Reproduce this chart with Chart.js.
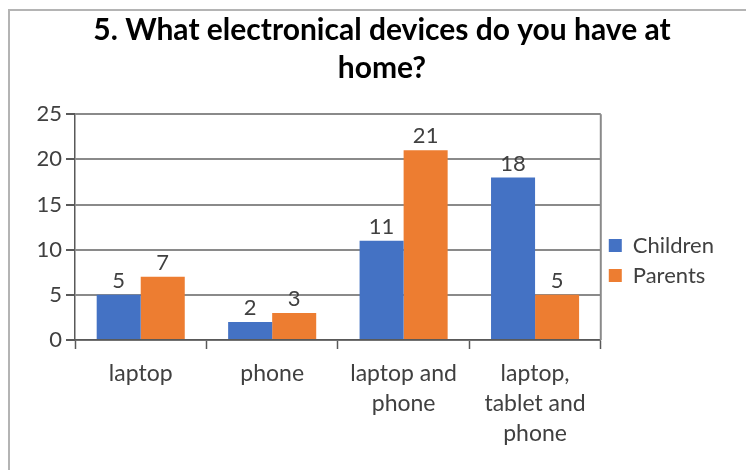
<!DOCTYPE html>
<html lang="en">
<head>
    <meta charset="UTF-8">
    <script src="https://cdn.jsdelivr.net/npm/chart.js"></script>
    <title>Electronic devices</title>
    <style>
        body { margin: 0; background: #fff; }
        .moldura { position: relative; width: 746px; height: 470px; }
        .borda { position: absolute; left: 8px; top: 9px; right: -2px; bottom: -2px;
                 border-left: 2px solid #b4b4b4; border-top: 2px solid #b4b4b4; }
        canvas { position: absolute; left: 0; top: 0; }
    </style>
</head>
<body>
<div class="moldura">
    <div class="borda"></div>
    <canvas id="grafico" width="746" height="470"></canvas>
</div>

<script>
// dados do grafico
const categorias = [['laptop'], ['phone'], ['laptop and', 'phone'], ['laptop,', 'tablet and', 'phone']];
const criancas = [5, 2, 11, 18];
const pais = [7, 3, 21, 5];
const marcasY = [0, 5, 10, 15, 20, 25];

// escreve o valor em cima de cada barra
const rotulosBarras = {
    id: 'rotulosBarras',
    afterDatasetsDraw(chart) {
        const ctx = chart.ctx;
        ctx.save();
        ctx.font = '22px Lato';
        ctx.fillStyle = '#404040';
        ctx.textAlign = 'center';
        ctx.textBaseline = 'bottom';
        chart.data.datasets.forEach(function (ds, i) {
            chart.getDatasetMeta(i).data.forEach(function (barra, j) {
                ctx.fillText(ds.data[j], barra.x, barra.y - 3);
            });
        });
        ctx.restore();
    }
};

// linha da direita da area do grafico
const bordaDireita = {
    id: 'bordaDireita',
    beforeDatasetsDraw(chart) {
        const a = chart.chartArea;
        const ctx = chart.ctx;
        ctx.save();
        ctx.strokeStyle = '#8a8a8a';
        ctx.lineWidth = 2;
        ctx.beginPath();
        ctx.moveTo(a.right, a.top);
        ctx.lineTo(a.right, a.bottom);
        ctx.stroke();
        ctx.restore();
    }
};

// desce um pouco a legenda e empurra o titulo para a direita
const ajustaCaixas = {
    id: 'ajustaCaixas',
    afterLayout(chart) {
        chart.legend.top += 20;
        chart.legend.bottom += 20;
        if (chart.titleBlock) {
            chart.titleBlock.left += 15;
            chart.titleBlock.right += 15;
        }
    }
};

const config = {
    type: 'bar',
    data: {
        labels: categorias,
        datasets: [
            { label: 'Children', data: criancas, backgroundColor: '#4472C4' },
            { label: 'Parents', data: pais, backgroundColor: '#ED7D31' }
        ]
    },
    options: {
        responsive: false,
        animation: false,
        layout: { padding: { left: 10, right: 22, top: 11, bottom: 0 } },
        datasets: { bar: { categoryPercentage: 0.67, barPercentage: 1 } },
        plugins: {
            title: {
                display: true,
                text: ['5. What electronical devices do you have at', 'home?'],
                color: '#000',
                font: { family: 'Lato', size: 30, weight: 'bold', lineHeight: 1.27 },
                padding: { top: 0, bottom: 27 }
            },
            legend: {
                position: 'right',
                labels: {
                    boxWidth: 13,
                    boxHeight: 13,
                    color: '#404040',
                    font: { family: 'Lato', size: 22 },
                    padding: 8
                }
            },
            tooltip: { enabled: false }
        },
        scales: {
            x: {
                grid: { offset: true, drawOnChartArea: false, tickLength: 9, tickColor: '#595959', tickWidth: 1.5 },
                border: { color: '#595959', width: 1.5 },
                ticks: { color: '#404040', font: { family: 'Lato', size: 23, lineHeight: 1.32 }, maxRotation: 0, padding: 9 },
                afterFit(scale) { scale.height = 130; }
            },
            y: {
                min: 0,
                max: 25,
                afterBuildTicks(scale) { scale.ticks = marcasY.map(v => ({ value: v })); },
                grid: { color: '#8a8a8a', lineWidth: 2, tickLength: 9, tickColor: '#595959' },
                border: { color: '#595959', width: 1.5 },
                ticks: { color: '#404040', font: { family: 'Lato', size: 22 }, padding: 4 },
                afterFit(scale) { scale.width = 65; }
            }
        }
    },
    plugins: [rotulosBarras, bordaDireita, ajustaCaixas]
};

let meuGrafico = new Chart(document.getElementById('grafico'), config);
</script>
</body>
</html>
